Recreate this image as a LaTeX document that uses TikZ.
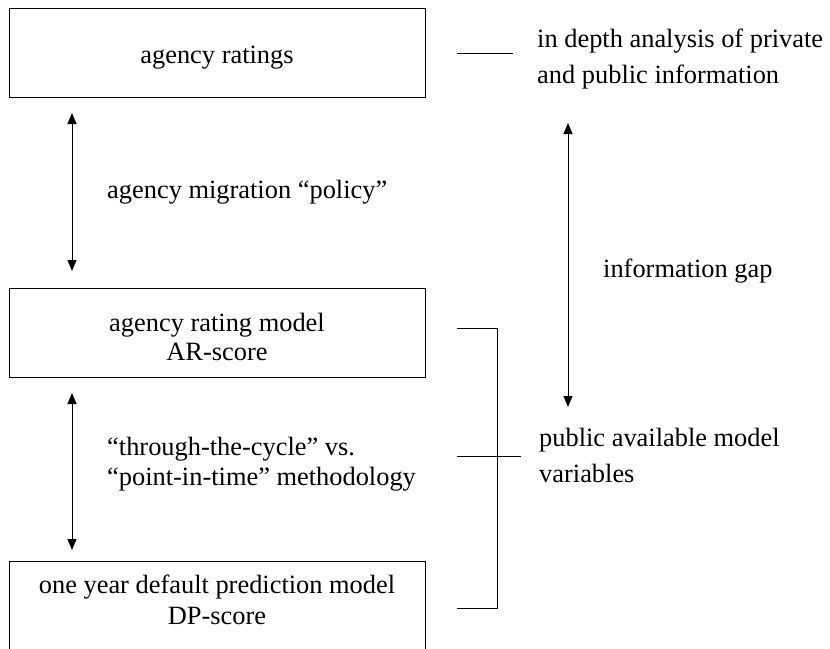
\documentclass[tikz,border=0pt]{standalone}
\usepackage{fontspec}
\setmainfont{Liberation Serif}
\usetikzlibrary{arrows.meta}
\newcommand{\stackL}[2]{\fontsize{26.4}{#1}\selectfont\begin{tabular}[t]{@{}l@{}}#2\end{tabular}}
\newcommand{\stackC}[3]{\raisebox{#2}[0pt][0pt]{\fontsize{26.4}{#1}\selectfont\begin{tabular}[t]{@{}c@{}}#3\end{tabular}}}
\begin{document}
\begin{tikzpicture}[x=1pt,y=-1pt,
  every node/.style={font=\fontsize{26.4}{30}\selectfont, inner sep=0pt},
  box/.style={draw, line width=0.9pt, minimum width=416pt, minimum height=89pt},
  lbl/.style={anchor=base west},
  conn/.style={line width=0.9pt},
  dbl/.style={line width=0.9pt, {Triangle[width=9pt,length=11pt]}-{Triangle[width=9pt,length=11pt]}}]
\useasboundingbox (0,0) rectangle (830,648);
\clip (0,0) rectangle (830,648);
\node[box] (b1) at (217,52.5) {\stackC{30}{-10.5pt}{agency ratings}};
\node[box] (b2) at (217,332.5) {\stackC{29}{1.5pt}{agency rating model\\AR-score}};
\node[box] (b3) at (217,605.5) {\stackC{31}{12.5pt}{one year default prediction model\\DP-score}};
\coordinate (a1t) at (72,113);
\coordinate (a1b) at (72,271);
\coordinate (a2t) at (72,393);
\coordinate (a2b) at (72,550);
\draw[dbl] (a1t) -- (a1b);
\draw[dbl] (a2t) -- (a2b);
\node[lbl] (m1) at (107,198) {agency migration “policy”};
\node[lbl] (m2) at (107,455) {\stackL{30}{“through-the-cycle” vs.\\“point-in-time” methodology}};
\coordinate (g1t) at (568,123);
\coordinate (g1b) at (568,407);
\draw[dbl] (g1t) -- (g1b);
\node[lbl] (r1) at (537,47) {\stackL{36}{in depth analysis of private\\and public information}};
\node[lbl] (r2) at (603,277) {information gap};
\node[lbl] (r3) at (539,446) {\stackL{36}{public available model\\variables}};
\coordinate (l1a) at (457,53);
\coordinate (l1b) at (513,53);
\draw[conn] (l1a) -- (l1b);
\coordinate (k1) at (457,328);
\coordinate (k2) at (497,328);
\coordinate (k3) at (497,608);
\coordinate (k4) at (457,608);
\draw[conn] (k1) -- (k2) -- (k3) -- (k4);
\coordinate (k5) at (457,456);
\coordinate (k6) at (521,456);
\draw[conn] (k5) -- (k6);
\end{tikzpicture}
\end{document}
